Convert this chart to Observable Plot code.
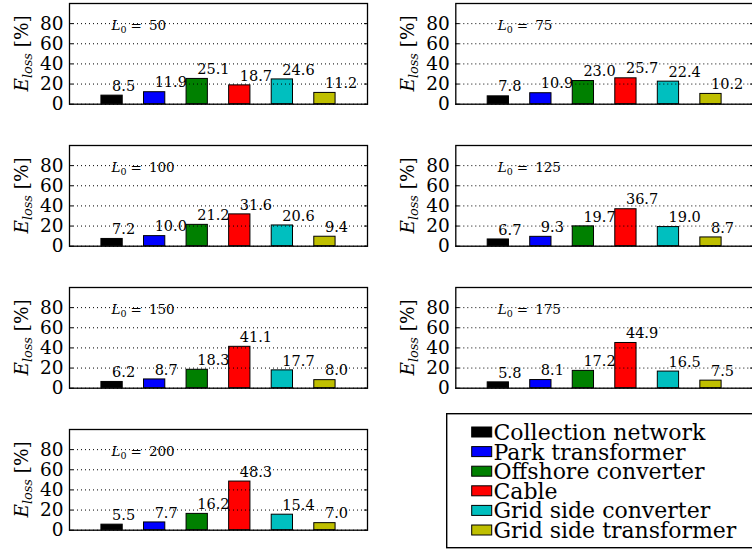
<!DOCTYPE html>
<html><head><meta charset="utf-8">
<script src="https://cdn.jsdelivr.net/npm/d3@7"></script>
<script src="https://cdn.jsdelivr.net/npm/@observablehq/plot@0.6"></script>
<style>
html,body{margin:0;padding:0;background:#fff;overflow:hidden;}
#root{position:relative;width:752px;height:551px;overflow:hidden;font-family:"DejaVu Serif",serif;}
.panel{position:absolute;}
#legend{position:absolute;left:446px;top:413px;}
</style></head><body><div id="root"></div>
<script>
const categories = ["Collection network","Park transformer","Offshore converter","Cable","Grid side converter","Grid side transformer"];
const colors = ["#000000","#0000ff","#008000","#ff0000","#00bfbf","#bfbf00"];
const lengths = [50,75,100,125,150,175,200];
const loss50  = [8.5, 11.9, 25.1, 18.7, 24.6, 11.2];
const loss75  = [7.8, 10.9, 23.0, 25.7, 22.4, 10.2];
const loss100 = [7.2, 10.0, 21.2, 31.6, 20.6, 9.4];
const loss125 = [6.7, 9.3, 19.7, 36.7, 19.0, 8.7];
const loss150 = [6.2, 8.7, 18.3, 41.1, 17.7, 8.0];
const loss175 = [5.8, 8.1, 17.2, 44.9, 16.5, 7.5];
const loss200 = [5.5, 7.7, 16.2, 48.3, 15.4, 7.0];
const yTicks = [0, 20, 40, 60, 80];

const panels = [loss50, loss75, loss100, loss125, loss150, loss175, loss200];
const rowTops = [3.3, 145.1, 286.9, 428.7];
const frameH = 100.7, mT = 10, mB = 20.3;
const root = document.getElementById("root");
const FONT = '"DejaVu Serif", serif';

panels.forEach((vals, k) => {
  const col = k % 2, row = Math.floor(k / 2);
  const left = col ? 376 : 0;
  const mL = col ? 79.3 : 69;
  const width = col ? 386 : 376;
  const data = vals.map((v, i) => ({i: i + 1, v, cat: categories[i]}));
  const chart = Plot.plot({
    width, height: mT + frameH + mB,
    marginTop: mT, marginBottom: mB, marginLeft: mL, marginRight: 9,
    style: {fontFamily: FONT, fontSize: "18px", background: "transparent", overflow: "visible", maxWidth: "none"},
    x: {domain: [0, 7], axis: null},
    y: {domain: [0, 100], axis: null},
    color: {domain: categories, range: colors},
    marks: [
      Plot.rectY(data, {x1: d => d.i - 0.25, x2: d => d.i + 0.25, y: "v", fill: "cat", stroke: "black", strokeWidth: 1}),
      Plot.text(data, {x: "i", y: "v", text: d => d.v.toFixed(1), textAnchor: "start", lineAnchor: "middle", dy: -9.5, fontSize: 14.5, fill: "black"}),
      Plot.gridY(yTicks, {stroke: "black", strokeOpacity: 1, strokeWidth: 1, strokeDasharray: "1,3", className: "grid"}),
      Plot.axisY(yTicks, {anchor: "left", tickSize: -4, tickPadding: 10, label: null, fontSize: 18.5}),
      Plot.axisY(yTicks, {anchor: "right", tickSize: -4, tickFormat: () => "", label: null}),
      Plot.frame({stroke: "black", strokeWidth: 1.3})
    ]
  });
  const div = document.createElement("div");
  div.className = "panel";
  div.style.left = left + "px";
  div.style.top = (rowTops[row] - mT) + "px";
  div.style.width = width + "px";
  div.appendChild(chart);
  root.appendChild(div);

  const svg = d3.select(chart);
  const xs = chart.scale("x"), ys = chart.scale("y");
  // y label
  const yl = svg.append("text")
    .attr("transform", `translate(${mL - 41},${mT + frameH / 2}) rotate(-90)`)
    .attr("text-anchor", "middle").attr("font-size", 18.5).attr("fill", "black")
    .attr("font-family", FONT);
  yl.append("tspan").attr("font-style", "italic").text("E");
  yl.append("tspan").attr("font-style", "italic").attr("font-size", 12.8).attr("dy", 4).text("loss");
  yl.append("tspan").attr("dy", -4).text("\u00a0[%]");
  // L0 annotation (drawn beneath the dotted grid)
  const gridNode = svg.select(".grid").node();
  const lt = svg.insert("text", gridNode ? ".grid" : null)
    .attr("x", xs.apply(1)).attr("y", ys.apply(80) + 7)
    .attr("text-anchor", "start")
    .attr("font-size", 13.5).attr("fill", "black")
    .attr("font-family", FONT);
  lt.append("tspan").attr("font-style", "italic").text("L");
  lt.append("tspan").attr("font-size", 9.5).attr("dy", 3).text("0");
  lt.append("tspan").attr("dy", -3).attr("dx", 4).text("=");
  lt.append("tspan").attr("dx", 7).text(String(lengths[k]));
});

// legend
const lg = d3.select(root).append("svg").attr("id", "legend")
  .attr("width", 320).attr("height", 136);
lg.append("rect").attr("x", 0.7).attr("y", 0.7).attr("width", 400).attr("height", 134)
  .attr("fill", "white").attr("stroke", "black").attr("stroke-width", 1.4);
categories.forEach((c, i) => {
  const cy = 19 + 19.6 * i;
  lg.append("rect").attr("x", 25.7).attr("y", cy - 5).attr("width", 20).attr("height", 10)
    .attr("fill", colors[i]).attr("stroke", "black").attr("stroke-width", 1);
  lg.append("text").attr("x", 47.5).attr("y", cy + 8)
    .attr("font-size", 22).attr("font-family", FONT).attr("fill", "black").text(c);
});
</script></body></html>
